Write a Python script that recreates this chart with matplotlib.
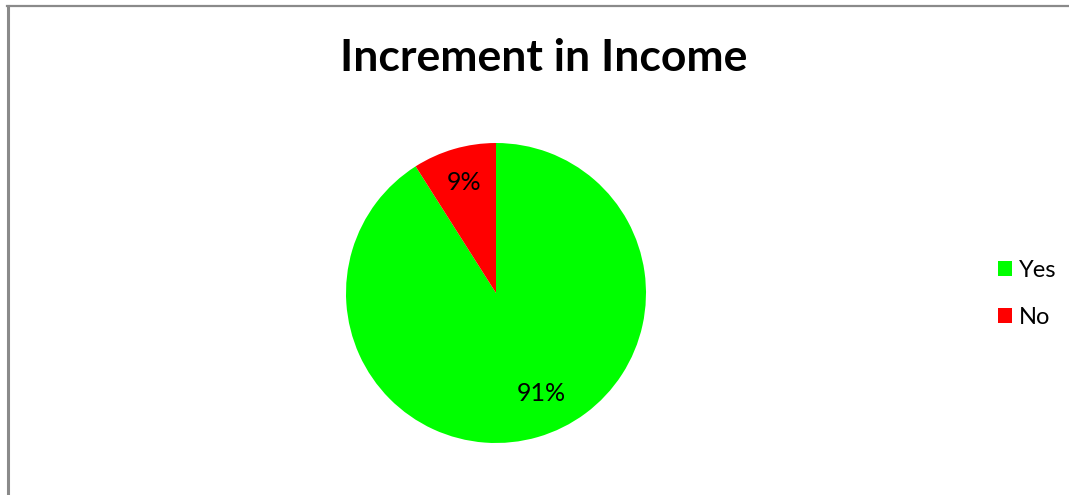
import matplotlib.pyplot as plt
from matplotlib.lines import Line2D

labels = ["Yes", "No"]
shares = [91, 9]
colors = ["#00ff00", "#ff0000"]

W, H = 1069, 495
fig = plt.figure(figsize=(W / 100, H / 100), dpi=100)
plt.rcParams['font.family'] = ['Lato', 'DejaVu Sans']

# chart frame (top and left edges only)
fig.add_artist(Line2D([7 / W, 1], [1 - 6 / H, 1 - 6 / H], color="#8a8a8a", lw=1.6))
fig.add_artist(Line2D([8 / W, 8 / W], [0, 1 - 6 / H], color="#8a8a8a", lw=2.2))

fig.text(544 / W, 1 - 58 / H, "Increment in Income", ha="center", va="center",
         fontsize=32, fontweight="bold")

# pie area: center (496, 293), radius 150 px
cx, cy, r = 496, 293, 150
ax = fig.add_axes([(cx - r) / W, (H - cy - r) / H, 2 * r / W, 2 * r / H])
wedges, texts, autotexts = ax.pie(shares, colors=colors, startangle=90, counterclock=False,
                                  autopct="%d%%", pctdistance=0.77,
                                  textprops={"fontsize": 18})
# big slice label sits a bit right of the wedge bisector
autotexts[0].set_position((0.30, -0.667))
ax.set_xlim(-1, 1)
ax.set_ylim(-1, 1)
ax.set_aspect("equal")
ax.axis("off")

fig.legend(wedges, labels, loc="center left", bbox_to_anchor=(986 / W, 1 - 294 / H),
           frameon=False, fontsize=17, handlelength=0.6, handleheight=0.6,
           handletextpad=0.3, labelspacing=1.1, borderpad=0)

fig.savefig("out.png", dpi=100)
